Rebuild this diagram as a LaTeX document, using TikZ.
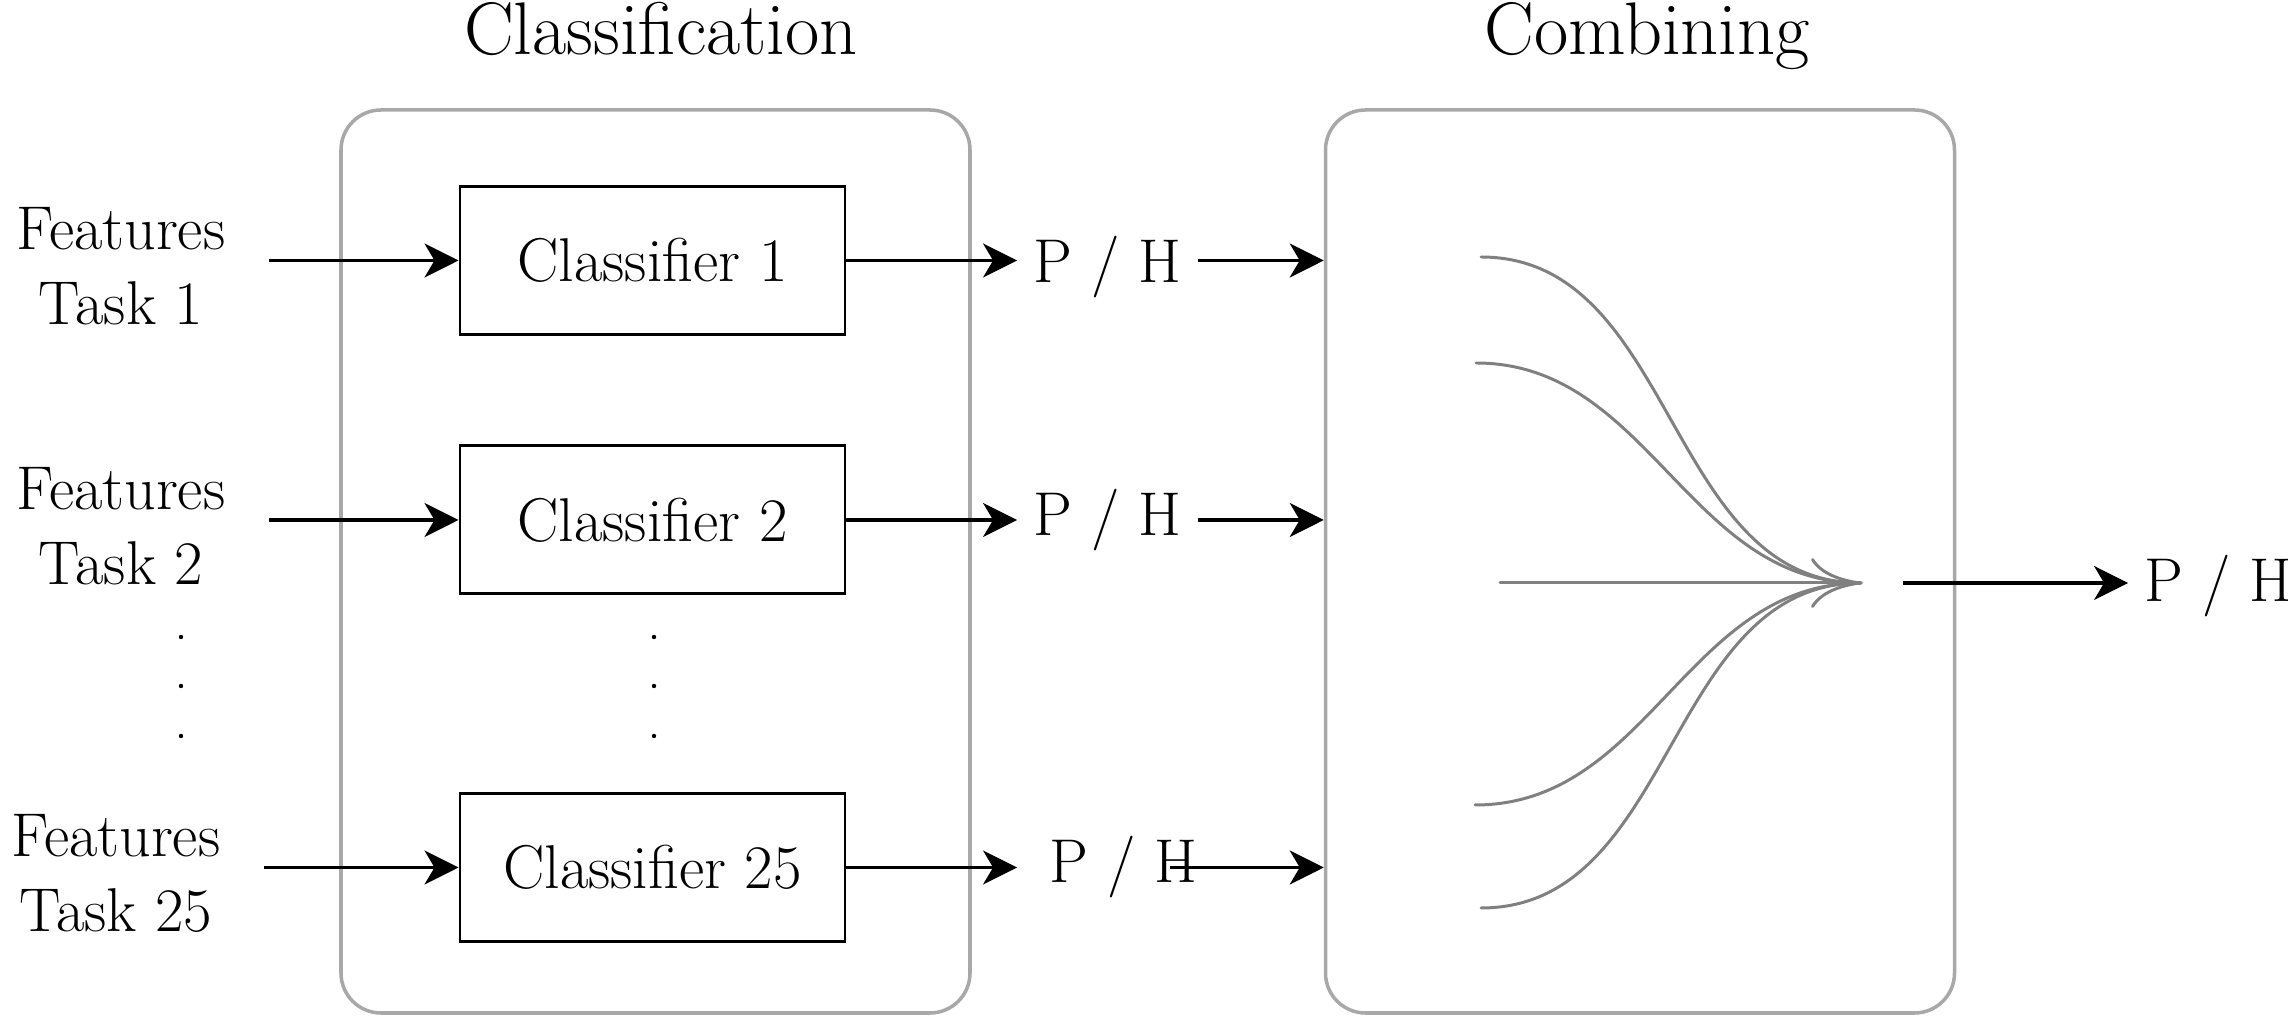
\documentclass[tikz,border=0pt]{standalone}
\usetikzlibrary{positioning,arrows.meta}
\definecolor{boxgray}{gray}{0.66}
\definecolor{curvegray}{gray}{0.5}

\begin{document}
\begin{tikzpicture}
	% Styles for the elements
	\tikzstyle{classifier}	= [rectangle, draw, line width=0.85pt, minimum width=3.85cm, minimum height=1.48cm, font=\fontsize{17.6}{21.3}\selectfont]
	\tikzstyle{groupbox}	= [rectangle, draw=boxgray, line width=1pt, rounded corners=0.4cm, minimum width=6.29cm, minimum height=9.03cm]
	\tikzstyle{featuretext}	= [align=center, inner xsep=0.43cm, font=\fontsize{17.6}{21.3}\selectfont]
	\tikzstyle{result}		= [inner xsep=0.16cm, font=\fontsize{17.6}{21.3}\selectfont]
	\tikzstyle{heading}		= [anchor=base, font=\fontsize{21.2}{25}\selectfont]
	\tikzstyle{flowarrow}	= [line width=0.9pt, -{Stealth[length=3.4mm, width=3.4mm, inset=1mm]}]
	\tikzstyle{flowline}	= [line width=0.85pt, draw=curvegray, line cap=round]

	\useasboundingbox (0,0) rectangle (22.88,10.16);

	% Grey boxes and headings
	\node[groupbox]	(group_classification)	at (6.555,4.545)	{};
	\node[groupbox]	(group_combining)		at (16.40,4.545)	{};
	\node[heading]	(head_classification)	at (6.61,9.61)		{Classification};
	\node[heading]	(head_combining)		at (16.47,9.61)		{Combining};

	% Classifiers
	\node[classifier]	(classifier_1)									at (6.525,7.555)	{Classifier 1};
	\node[classifier]	(classifier_2)	[below of=classifier_1, node distance=2.595cm]	{Classifier 2};
	\node[classifier]	(classifier_25)	[below of=classifier_2, node distance=3.475cm]	{Classifier 25};

	% Features on the left
	\node[featuretext]	(features_1)	[left of=classifier_1,  node distance=5.315cm, yshift=-0.06cm]	{Features\\Task 1};
	\node[featuretext]	(features_2)	[left of=classifier_2,  node distance=5.315cm, yshift=-0.06cm]	{Features\\Task 2};
	\node[featuretext]	(features_25)	[left of=classifier_25, node distance=5.365cm, yshift=-0.06cm]	{Features\\Task 25};

	% Results of the classifiers
	\node[result]	(ph_1)	[right of=classifier_1,  node distance=4.55cm, yshift=-0.07cm]	{P / H};
	\node[result]	(ph_2)	[right of=classifier_2,  node distance=4.55cm]					{P / H};
	\node[result]	(ph_25)	[right of=classifier_25, node distance=4.71cm]					{P / H};

	% Combined result
	\coordinate (merge) at (18.61,4.33);
	\node[result]	(ph_out)	at (22.185,4.30)	{P / H};

	% Dots between the rows
	\foreach \y in {3.79,3.30,2.80} {
		\fill (1.81,\y) circle (0.022cm);	% Features
		\fill (6.54,\y) circle (0.022cm);	% Classifiers
	}

	% Arrows
	\draw[flowarrow] (features_1.east |- classifier_1) -- (classifier_1);
	\draw[flowarrow] (features_2.east |- classifier_2) -- (classifier_2);
	\draw[flowarrow] (features_25.east |- classifier_25) -- (classifier_25);
	\draw[flowarrow] (classifier_1) -- (classifier_1 -| ph_1.west);
	\draw[flowarrow] (classifier_2) -- (classifier_2 -| ph_2.west);
	\draw[flowarrow] (classifier_25) -- (classifier_25 -| ph_2.west);
	\draw[flowarrow] (ph_1.east |- classifier_1) -- (classifier_1 -| group_combining.west);
	\draw[flowarrow] (ph_2.east |- classifier_2) -- (classifier_2 -| group_combining.west);
	\draw[flowarrow] ([xshift=-0.44cm]ph_25.east |- classifier_25) -- (classifier_25 -| group_combining.west);
	\draw[flowarrow] ([xshift=0.42cm]merge) -- (merge -| ph_out.west);

	% Lines that are combined
	\foreach \sx/\sy [count=\i] in {14.81/7.59, 14.76/6.53, 14.75/2.11, 14.81/1.08} {
		\coordinate (source_\i) at (\sx,\sy);
		\draw[flowline] (source_\i) to[out=0,in=180] (merge);
	}
	\coordinate (source_mid) at (15.00,4.33);
	\draw[flowline, -{To[length=5mm, width=5mm]}] (source_mid) -- (merge);

\end{tikzpicture}
\end{document}
